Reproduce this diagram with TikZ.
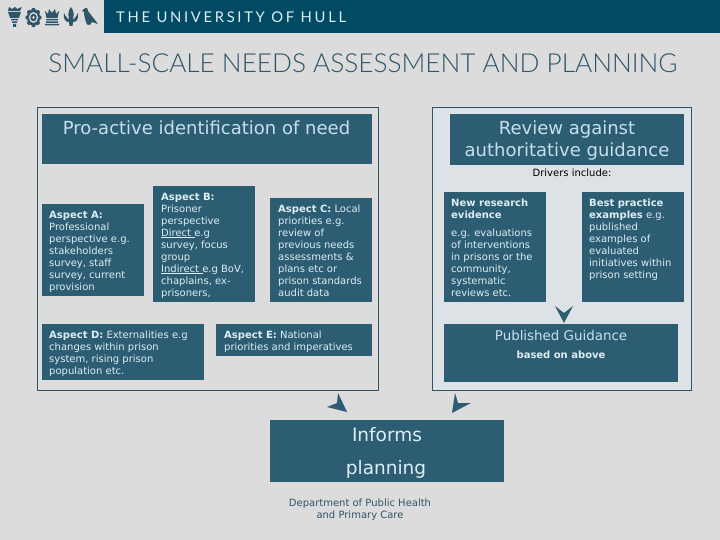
\documentclass[tikz,border=0pt]{standalone}
\usepackage{fontspec}
\setmainfont{DejaVu Sans}
\newfontfamily\titlefont[UprightFont=* Light]{Lato}
\newfontfamily\unifont[LetterSpace=18]{Lato}
\definecolor{bgc}{HTML}{DCDCDC}
\definecolor{panelc}{HTML}{DCE2E5}
\definecolor{boxc}{HTML}{2C5D72}
\definecolor{bandc}{HTML}{004B63}
\definecolor{txtc}{HTML}{DDEEF5}
\definecolor{headc}{HTML}{C5E0EC}
\definecolor{inkc}{HTML}{2F5568}
\tikzset{
  x=1pt,y=-1pt,
  panel/.style={draw=inkc,line width=1pt,fill=#1},
  blockc/.style={fill=boxc},
  small/.style={text=txtc,font=\fontsize{10}{12}\selectfont,align=left,anchor=north west,inner sep=0pt},
  big/.style={text=headc,font=\fontsize{18}{22}\selectfont,align=center,inner sep=0pt},
  arrowhd/.style={fill=boxc},
  logoc/.style={fill=inkc},
}
\newcommand{\ul}[1]{\rlap{\rule[-1.5pt]{#1pt}{0.8pt}}}
\begin{document}
\begin{tikzpicture}
\useasboundingbox (0,0) rectangle (720,540);
\fill[bgc] (0,0) rectangle (720,540);
% header band
\fill[bandc] (104,0) rectangle (720,33);
\node[anchor=west,inner sep=0pt,text=txtc,font=\unifont\fontsize{14.8}{16}\selectfont] (uni) at (116,17.5) {THE UNIVERSITY OF HULL};
% torch
\fill[logoc] (8,12) -- (21,12) -- (19,18) -- (10,18) -- cycle;
\fill[logoc] (11,19) rectangle (18,20.5) (12,21.5) rectangle (17,23) (13,24) rectangle (16,27);
\fill[logoc] (8,11) -- (9,7) -- (12,9) -- (15,7) -- (17,9) -- (22,7) -- (20,11) -- cycle;
% rose
\foreach \a in {0,45,...,315} \fill[logoc] (33.5,17.5) ++(\a:6 and 7.5) circle (2.2);
\fill[logoc] (33.5,17.5) ellipse (6.5 and 8);
\fill[bgc] (33.5,17.5) ellipse (4.6 and 5.4);
\fill[logoc] (33.5,17.5) ellipse (3.2 and 3.8);
\fill[bgc] (33.5,17.5) ellipse (1.4 and 1.6);
% crown
\fill[logoc] (45,11) -- (48,14) -- (49,9) -- (52,13) -- (55,9) -- (56,14) -- (59,11) -- (57.5,18) -- (46.5,18) -- cycle;
\fill[logoc] (46,19) rectangle (58,20.5) (46,21.5) rectangle (58,23) (45,24) rectangle (59,25.5);
% fleur de lys
\fill[logoc] (71,7) .. controls (74,11) and (74,15) .. (73,19) -- (74,19) .. controls (75,16) and (78,16) .. (78,13) .. controls (79,20) and (76,22) .. (73,22) -- (72.5,26) -- (69.5,26) -- (69,22) .. controls (66,22) and (63,20) .. (64,13) .. controls (64,16) and (67,16) .. (68,19) -- (69,19) .. controls (68,15) and (68,11) .. (71,7) -- cycle;
% bird
\fill[logoc] (84,9) .. controls (86,7) and (88,8) .. (88,11) -- (98,24) -- (92,22) -- (90,25) -- (87,24.5) .. controls (85,20) and (84,15) .. (84,12) -- (82,11) -- cycle;
% title
\node[text=inkc,inner sep=0pt,font=\titlefont\fontsize{26.2}{30}\selectfont] (title) at (363,63) {SMALL-SCALE NEEDS ASSESSMENT AND PLANNING};
% outer panels
\draw[panel=bgc] (37,108) rectangle (378.5,390);
\draw[panel=panelc] (432.5,108) rectangle (691,390);
% heading boxes
\fill[blockc] (42,114) rectangle (372,164);
\node[big,anchor=base] (h1) at (206.5,135) {Pro-active identification of need};
\fill[blockc] (450,114) rectangle (684,165);
\node[big,anchor=north] (h2) at (567,120.5) {Review against\\authoritative guidance};
\node[text=black,font=\fontsize{10}{12}\selectfont,inner sep=0pt] (drv) at (572,172.5) {Drivers include:};
% aspects
\fill[blockc] (42,204) rectangle (144,296);
\node[small] (a) at (49,211) {\textbf{Aspect A:}\\Professional\\perspective e.g.\\stakeholders\\survey, staff\\survey, current\\provision};
\fill[blockc] (153,186) rectangle (255,302);
\node[small] (b) at (161,193) {\textbf{Aspect B:}\\Prisoner\\perspective\\\ul{34}Direct e.g\\survey, focus\\group\\\ul{42}Indirect e.g BoV,\\chaplains, ex-\\prisoners,};
\fill[blockc] (270,198) rectangle (372,302);
\node[small] (c) at (278,205) {\textbf{Aspect C:} Local\\priorities e.g.\\review of\\previous needs\\assessments \&\\plans etc or\\prison standards\\audit data};
\fill[blockc] (42,324) rectangle (204,380);
\node[small] (d) at (49,331) {\textbf{Aspect D:} Externalities e.g\\changes within prison\\system, rising prison\\population etc.};
\fill[blockc] (216,324) rectangle (372,356);
\node[small] (e) at (224,331) {\textbf{Aspect E:} National\\priorities and imperatives};
% right side
\fill[blockc] (444,192) rectangle (546,302);
\node[small] (n1) at (451,199) {\textbf{New research}\\\textbf{evidence}};
\node[small] (n2) at (451,229) {e.g. evaluations\\of interventions\\in prisons or the\\community,\\systematic\\reviews etc.};
\fill[blockc] (582,192) rectangle (684,302);
\node[small] (bp) at (589,199) {\textbf{Best practice}\\\textbf{examples} e.g.\\published\\examples of\\evaluated\\initiatives within\\prison setting};
\fill[blockc] (444,324) rectangle (678,382);
\node[text=headc,inner sep=0pt,font=\fontsize{13.4}{14}\selectfont] (pg) at (561,335.5) {Published Guidance};
\node[text=txtc,inner sep=0pt,font=\bfseries\fontsize{10}{12}\selectfont] (pg2) at (561,354.5) {based on above};
% informs
\fill[blockc] (270,420) rectangle (504,482);
\node[text=txtc,inner sep=0pt,font=\fontsize{18.5}{20}\selectfont] (inf1) at (387,434.5) {Informs};
\node[text=txtc,inner sep=0pt,font=\fontsize{18.5}{20}\selectfont] (inf2) at (386,469) {planning};
\node[text=inkc,inner sep=0pt,align=center,font=\fontsize{10}{12}\selectfont] (dept) at (360,509.5) {Department of Public Health\\and Primary Care};
% arrowheads
\fill[arrowhd] (564,323) -- (555,306) -- (564,313) -- (573,306) -- cycle;
\fill[arrowhd] (347,412) -- (327,407) -- (337,403) -- (338,393) -- cycle;
\fill[arrowhd] (452,413) -- (455,393) -- (458,403) -- (471,403) -- cycle;
\end{tikzpicture}
\end{document}
